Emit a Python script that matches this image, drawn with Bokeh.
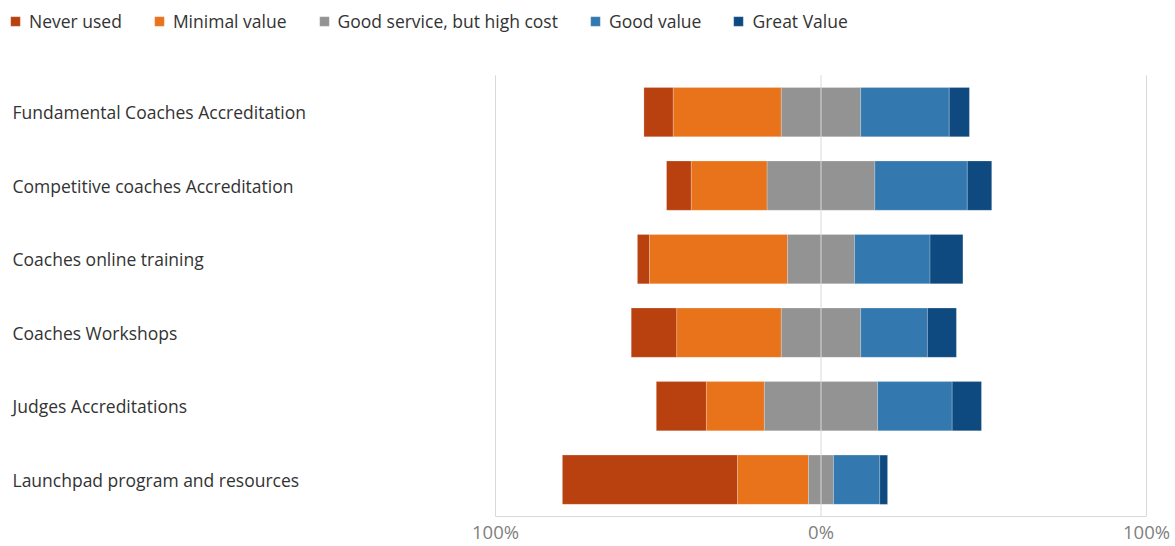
from bokeh.plotting import figure
from bokeh.models import ColumnDataSource, Range1d, FixedTicker, Legend, LegendItem
from bokeh.core.properties import value
from bokeh.embed import file_html
from bokeh.resources import INLINE

categories = [
    "Fundamental Coaches Accreditation",
    "Competitive coaches Accreditation",
    "Coaches online training",
    "Coaches Workshops",
    "Judges Accreditations",
    "Launchpad program and resources",
]
series = ["Never used", "Minimal value", "Good service, but high cost", "Good value", "Great Value"]
never_used = [9.0, 7.6, 3.7, 14.0, 15.4, 53.8]
minimal_value = [33.2, 23.3, 42.4, 32.1, 17.8, 21.8]
good_service_high_cost = [24.4, 33.1, 20.6, 24.4, 34.8, 7.7]
good_value = [27.2, 28.4, 23.2, 20.5, 22.9, 14.2]
great_value = [6.2, 7.5, 10.1, 8.9, 9.0, 2.4]
colors = ["#B9400F", "#E8731A", "#939393", "#3379AF", "#0E4A7F"]
tick_values = [-100, 0, 100]
tick_labels = ["100%", "0%", "100%"]

FONT = "Open Sans"
FS = "17.5px"
W, H = 1175, 546
TOP, BOTTOM = 75, 29
left_px, right_px = 495, 1146
scale = (right_px - left_px) / 200.0
x_start = -100 - left_px / scale
x_end = 100 + (W - right_px) / scale
label_x = x_start + 12 / scale

n = len(categories)
row_px = (H - BOTTOM - TOP) / n
y_start = -0.5
y_end = n - 0.5 + TOP / row_px
ypos = [n - 1 - i for i in range(n)]

values = [never_used, minimal_value, good_service_high_cost, good_value, great_value]

p = figure(
    width=W, height=H,
    x_range=Range1d(x_start, x_end), y_range=Range1d(y_start, y_end),
    output_backend="svg", toolbar_location=None,
    min_border_left=0, min_border_right=0, min_border_top=0, min_border_bottom=BOTTOM,
)
p.outline_line_color = None
p.background_fill_color = "white"
p.border_fill_color = "white"

items = []
for i, (name, vals, col) in enumerate(zip(series, values, colors)):
    lefts, rights = [], []
    for r in range(n):
        start = -(never_used[r] + minimal_value[r] + good_service_high_cost[r] / 2.0)
        for j in range(i):
            start += values[j][r]
        lefts.append(start)
        rights.append(start + vals[r])
    src = ColumnDataSource(dict(y=ypos, left=lefts, right=rights))
    rr = p.hbar(y="y", left="left", right="right", height=0.67, source=src,
                fill_color=col, line_color="white", line_width=0.6, line_alpha=0.35)
    items.append(LegendItem(label=name, renderers=[rr]))

# vertical gridlines at the tick values, spanning the category rows
grid_src = ColumnDataSource(dict(x=tick_values, y0=[y_start] * len(tick_values),
                                 y1=[n - 0.5] * len(tick_values)))
p.segment(x0="x", x1="x", y0="y0", y1="y1", source=grid_src, line_color="#d9d9d9", line_width=1)

# category labels (left aligned)
lab_src = ColumnDataSource(dict(y=ypos, x=[label_x] * n, t=categories))
p.text(x="x", y="y", text="t", source=lab_src, text_align="left", text_baseline="middle",
       text_font=value(FONT), text_font_size=FS, text_color="#333333")

p.yaxis.visible = False
p.ygrid.visible = False
p.xgrid.visible = False

xa = p.xaxis[0]
xa.ticker = FixedTicker(ticks=tick_values)
xa.major_label_overrides = {v: l for v, l in zip(tick_values, tick_labels)}
xa.bounds = (-100, 100)
xa.axis_line_color = "#d9d9d9"
xa.major_tick_line_color = None
xa.minor_tick_line_color = None
xa.major_tick_out = 0
xa.major_tick_in = 0
xa.minor_tick_out = 0
xa.minor_tick_in = 0
xa.major_label_text_font = FONT
xa.major_label_text_font_size = "18.5px"
xa.major_label_text_color = "#7f7f7f"
xa.major_label_standoff = 2

legend = Legend(items=items, orientation="horizontal", location="top_left",
                glyph_width=12, glyph_height=12, label_standoff=8, spacing=31,
                padding=4, margin=9, border_line_color=None, background_fill_alpha=0,
                label_text_font=FONT, label_text_font_size=FS, label_text_color="#333333")
p.add_layout(legend)

open("out.html", "w").write(file_html(p, INLINE))
